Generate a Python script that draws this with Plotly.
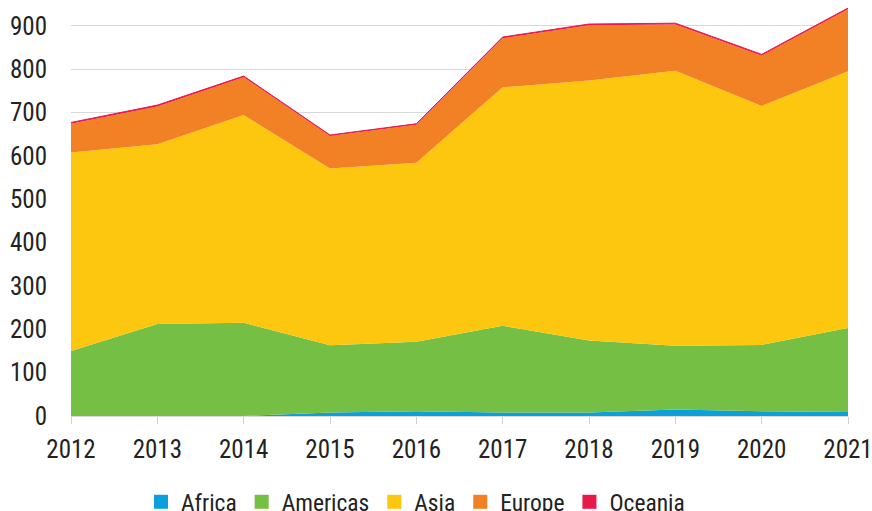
import plotly.graph_objects as go

years = [2012, 2013, 2014, 2015, 2016, 2017, 2018, 2019, 2020, 2021]
africa = [0, 0, 0, 8, 11, 8, 8, 15, 11, 9]
americas = [150, 212, 215, 155, 160, 200, 166, 147, 153, 194]
asia = [458, 415, 479, 408, 413, 550, 600, 634, 551, 592]
europe = [66, 87, 87, 75, 88, 113, 127, 107, 116, 143]
oceania = [3, 3, 3, 2, 2, 3, 3, 3, 3, 3]

series = [
    ("Africa", africa, "#0aa0dc"),
    ("Americas", americas, "#74bf44"),
    ("Asia", asia, "#fdc70f"),
    ("Europe", europe, "#f28125"),
    ("Oceania", oceania, "#e8194a"),
]

FONT = "Liberation Sans Narrow, Roboto Condensed, Roboto, sans-serif"

fig = go.Figure()
for name, vals, col in series:
    fig.add_trace(go.Scatter(
        x=years, y=vals, name=name, mode="lines", stackgroup="one",
        line=dict(width=1 if name == "Oceania" else 0, color=col),
        fillcolor=col, showlegend=False, hoverinfo="x+y+name",
    ))
for name, vals, col in series:
    fig.add_trace(go.Scatter(
        x=[None], y=[None], name=name, mode="markers",
        marker=dict(symbol="square", size=14, color=col),
        showlegend=True,
    ))

fig.update_layout(
    width=872, height=511,
    margin=dict(l=71, r=24, t=8, b=95),
    paper_bgcolor="white", plot_bgcolor="white",
    font=dict(family=FONT, size=25, color="#222222"),
    xaxis=dict(
        range=[2012, 2021], tickmode="array", tickvals=years,
        ticktext=[str(y) for y in years], automargin=False,
        showgrid=False, zeroline=False, showline=False,
        ticks="outside", ticklen=7, tickcolor="#d0d0d0", tickwidth=1,
        tickfont=dict(size=25), ticklabelstandoff=4,
        ticklabeloverflow="allow",
    ),
    yaxis=dict(
        range=[0, 941], tickvals=[0, 100, 200, 300, 400, 500, 600, 700, 800, 900],
        showgrid=True, gridcolor="#d9d9d9", gridwidth=1, automargin=False,
        zeroline=True, zerolinecolor="#d9d9d9", zerolinewidth=1,
        showline=False, ticks="", ticklabelstandoff=23,
        tickfont=dict(size=25),
    ),
    legend=dict(
        orientation="h", xref="container", x=0.1617, xanchor="left",
        yref="container", y=0.0176, yanchor="middle",
        font=dict(size=23.5), itemwidth=30, tracegroupgap=0,
        traceorder="normal",
    ),
    showlegend=True,
)

fig.write_html(
    "out.html",
    config={"displayModeBar": False},
    post_script="document.body.style.margin='0';document.body.style.overflow='hidden';",
)
